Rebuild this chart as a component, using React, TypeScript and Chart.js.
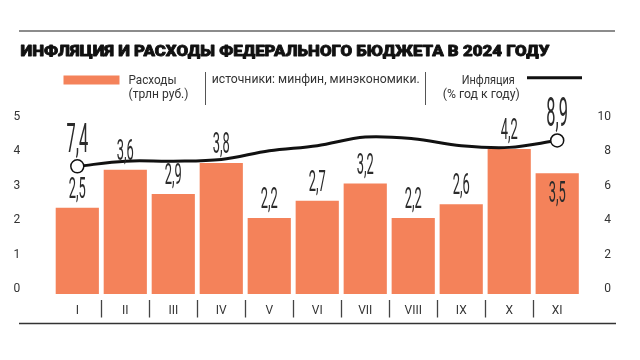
import React, { useEffect, useRef } from "react";
import { Chart, registerables } from "chart.js";

Chart.register(...registerables);

// ---- data ----
const months = ["I", "II", "III", "IV", "V", "VI", "VII", "VIII", "IX", "X", "XI"];
const spending = [2.5, 3.6, 2.9, 3.8, 2.2, 2.7, 3.2, 2.2, 2.6, 4.2, 3.5];
const inflation = [7.4, 7.7, 7.7, 7.8, 8.3, 8.6, 9.1, 9.0, 8.6, 8.5, 8.9];
const leftTicks = [0, 1, 2, 3, 4, 5];
const rightTicks = [0, 2, 4, 6, 8, 10];

const titleText = "ИНФЛЯЦИЯ И РАСХОДЫ ФЕДЕРАЛЬНОГО БЮДЖЕТА В 2024 ГОДУ";
const legendSpending = ["Расходы", "(трлн руб.)"];
const legendSource = "источники: минфин, минэкономики.";
const legendInflation = ["Инфляция", "(% год к году)"];

// ---- styles ----
const FONT = "Roboto, 'Liberation Sans', Arial, sans-serif";
const ORANGE = "#F4825A";
const TEXT = "#2b2b2b";

const fmt = (v: number) => v.toFixed(1).replace(".", ",");

function drawScaled(
  ctx: CanvasRenderingContext2D,
  text: string,
  x: number,
  y: number,
  font: string,
  sx: number,
  align: CanvasTextAlign,
  strokeW = 0
) {
  ctx.save();
  ctx.font = font;
  ctx.textBaseline = "alphabetic";
  ctx.textAlign = align;
  ctx.translate(x, y);
  ctx.scale(sx, 1);
  ctx.fillText(text, 0, 0);
  if (strokeW > 0) {
    ctx.strokeStyle = ctx.fillStyle as string;
    ctx.lineWidth = strokeW;
    ctx.lineJoin = "round";
    ctx.strokeText(text, 0, 0);
  }
  ctx.restore();
}

function drawFit(
  ctx: CanvasRenderingContext2D,
  text: string,
  x: number,
  y: number,
  font: string,
  width: number,
  strokeW = 0
) {
  ctx.save();
  ctx.font = font;
  const w = ctx.measureText(text).width;
  ctx.restore();
  drawScaled(ctx, text, x, y, font, width / w, "left", strokeW);
}

const bgPlugin = {
  id: "bg",
  beforeDraw(chart: any) {
    const ctx = chart.ctx as CanvasRenderingContext2D;
    ctx.save();
    ctx.fillStyle = "#ffffff";
    ctx.fillRect(0, 0, chart.width, chart.height);
    ctx.restore();
  },
};

const decorPlugin = {
  id: "decor",
  afterDraw(chart: any) {
    const ctx = chart.ctx as CanvasRenderingContext2D;
    ctx.save();
    // top gray rule
    ctx.strokeStyle = "#8c8c8c";
    ctx.lineWidth = 2;
    ctx.beginPath();
    ctx.moveTo(19, 31);
    ctx.lineTo(615, 31);
    ctx.stroke();

    // title
    ctx.fillStyle = "#111111";
    drawFit(ctx, titleText, 20.5, 55.5, `900 15px ${FONT}`, 529, 0.8);

    // legend: spending swatch
    ctx.fillStyle = ORANGE;
    ctx.fillRect(63.5, 75.5, 56, 9);
    ctx.fillStyle = "#333333";
    drawFit(ctx, legendSpending[0], 128.5, 84, `13px ${FONT}`, 48);
    drawFit(ctx, legendSpending[1], 128.5, 97.5, `13px ${FONT}`, 60);

    // separators
    ctx.strokeStyle = "#555555";
    ctx.lineWidth = 1;
    ctx.beginPath();
    ctx.moveTo(205.5, 72);
    ctx.lineTo(205.5, 105);
    ctx.moveTo(425.5, 72);
    ctx.lineTo(425.5, 105);
    ctx.stroke();

    drawFit(ctx, legendSource, 211.7, 83, `13px ${FONT}`, 208);
    drawFit(ctx, legendInflation[0], 461.7, 83.5, `13px ${FONT}`, 53);
    drawFit(ctx, legendInflation[1], 442.7, 97.5, `13px ${FONT}`, 77);

    // legend: inflation line
    ctx.strokeStyle = "#111111";
    ctx.lineWidth = 3;
    ctx.beginPath();
    ctx.moveTo(527, 77.7);
    ctx.lineTo(582, 77.7);
    ctx.stroke();

    // category separators under x-axis
    const xs = chart.scales.x;
    ctx.strokeStyle = "#444444";
    ctx.lineWidth = 1.3;
    ctx.beginPath();
    for (let i = 1; i < months.length; i++) {
      const bx = Math.round((xs.getPixelForValue(i - 1) + xs.getPixelForValue(i)) / 2) + 0.5;
      ctx.moveTo(bx, 300);
      ctx.lineTo(bx, 317.5);
    }
    ctx.stroke();

    // bottom rule
    ctx.strokeStyle = "#333333";
    ctx.lineWidth = 1.5;
    ctx.beginPath();
    ctx.moveTo(19, 323.5);
    ctx.lineTo(616, 323.5);
    ctx.stroke();
    ctx.restore();
  },
};

const labelsPlugin = {
  id: "valueLabels",
  afterDatasetsDraw(chart: any) {
    const ctx = chart.ctx as CanvasRenderingContext2D;
    ctx.save();
    ctx.fillStyle = TEXT;
    const barMeta = chart.getDatasetMeta(0);
    barMeta.data.forEach((el: any, i: number) => {
      const inside = i === spending.length - 1;
      const y = inside ? el.y + 29 : el.y - 10;
      drawScaled(ctx, fmt(spending[i]), el.x, y, `30px ${FONT}`, 0.43, "center");
    });
    const lineMeta = chart.getDatasetMeta(1);
    [0, inflation.length - 1].forEach((i) => {
      const el = lineMeta.data[i];
      drawScaled(ctx, fmt(inflation[i]), el.x, el.y - 14, `40px ${FONT}`, 0.41, "center");
    });
    ctx.restore();
  },
};

export default function App() {
  const ref = useRef<HTMLCanvasElement | null>(null);

  useEffect(() => {
    if (!ref.current) return;
    const last = inflation.length - 1;
    const chart = new Chart(ref.current, {
      type: "bar",
      data: {
        labels: months,
        datasets: [
          {
            type: "bar",
            label: "Расходы",
            data: spending,
            backgroundColor: ORANGE,
            borderWidth: 0,
            categoryPercentage: 1,
            barPercentage: 0.9,
            yAxisID: "y",
            order: 2,
          },
          {
            type: "line",
            label: "Инфляция",
            data: inflation,
            borderColor: "#111111",
            borderWidth: 3,
            tension: 0.35,
            yAxisID: "y2",
            order: 1,
            clip: false,
            pointRadius: (c: any) => (c.dataIndex === 0 || c.dataIndex === last ? 6.5 : 0),
            pointBackgroundColor: "#ffffff",
            pointBorderColor: "#111111",
            pointBorderWidth: 1.5,
          } as any,
        ],
      },
      options: {
        responsive: false,
        maintainAspectRatio: false,
        animation: false,
        devicePixelRatio: 1,
        layout: { padding: { left: 0, right: 29, top: 121.5, bottom: 36 } },
        plugins: {
          legend: { display: false },
          title: { display: false },
          tooltip: { enabled: false },
        },
        scales: {
          x: {
            grid: { display: false },
            border: { display: false },
            ticks: {
              color: "#333333",
              font: { family: FONT, size: 12 },
              padding: 2,
              maxRotation: 0,
            },
            afterFit: (s: any) => {
              s.height = 30;
            },
          },
          y: {
            position: "left",
            min: 0,
            max: 5,
            afterBuildTicks: (s: any) => {
              s.ticks = leftTicks.map((v) => ({ value: v }));
            },
            grid: { display: false },
            border: { display: false },
            ticks: {
              color: "#333333",
              font: { family: FONT, size: 12 },
              padding: 25,
              labelOffset: -5,
            },
            afterFit: (s: any) => {
              s.width = 53.3;
            },
          },
          y2: {
            position: "right",
            min: 0,
            max: 10,
            afterBuildTicks: (s: any) => {
              s.ticks = rightTicks.map((v) => ({ value: v }));
            },
            grid: { display: false },
            border: { display: false },
            ticks: {
              color: "#333333",
              font: { family: FONT, size: 12 },
              crossAlign: "far",
              labelOffset: -5,
            },
            afterFit: (s: any) => {
              s.width = 29.8;
            },
          },
        },
      } as any,
      plugins: [bgPlugin, labelsPlugin, decorPlugin],
    });
    return () => chart.destroy();
  }, []);

  return (
    <div
      style={{
        position: "fixed",
        left: 0,
        top: 0,
        width: 640,
        height: 360,
        background: "#ffffff",
      }}
    >
      <canvas ref={ref} width={640} height={360} style={{ display: "block" }} />
    </div>
  );
}
